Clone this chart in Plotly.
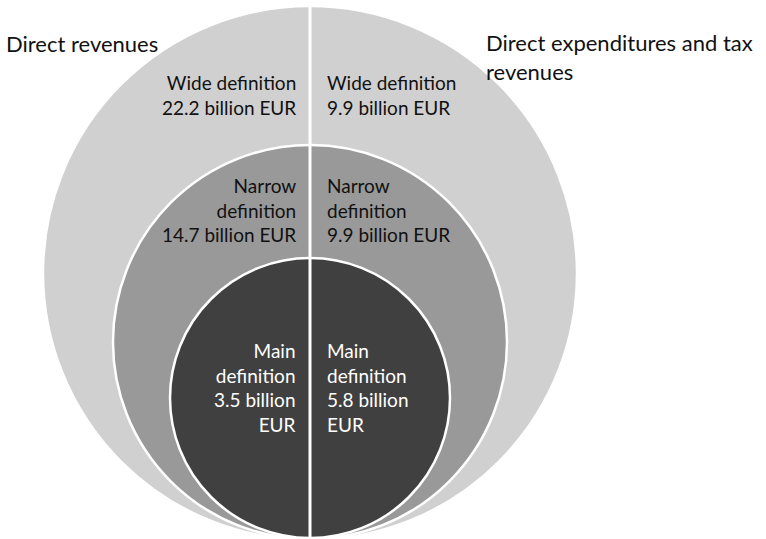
import plotly.graph_objects as go

# Data
rings = ["Wide", "Narrow", "Main"]
direct_revenues = [22.2, 14.7, 3.5]          # billion EUR, left half
direct_expenditures = [9.9, 9.9, 5.8]        # billion EUR, right half
side_titles = ["Direct revenues", "Direct expenditures and tax<br>revenues"]

# Geometry (pixel space, y grows downward)
W, H = 766, 539
cx = 310
ring_circles = [  # (center_y, radius) outer -> inner
    (273, 267),
    (342, 197),
    (398, 140),
]
ring_fill = ["#d0d0d0", "#999999", "#404040"]
ring_text = ["#111111", "#111111", "#ffffff"]
ring_label_y = [95, 210, 387]
left_templates = [
    "{r} definition<br>{v} billion EUR",
    "{r}<br>definition<br>{v} billion EUR",
    "{r}<br>definition<br>{v} billion<br>EUR",
]
right_templates = [
    "{r} definition<br>{v} billion EUR",
    "{r}<br>definition<br>{v} billion EUR",
    "{r}<br>definition<br>{v} billion<br>EUR",
]

FONT = "Lato"
FS = 19
TITLE_FS = 22

fig = go.Figure()

shapes = []
for (cy, r), col in zip(ring_circles, ring_fill):
    shapes.append(dict(type="circle", xref="x", yref="y",
                       x0=cx - r, x1=cx + r, y0=cy - r, y1=cy + r,
                       fillcolor=col, line=dict(color="white", width=2.5),
                       layer="below"))
# vertical divider between the two halves
shapes.append(dict(type="line", xref="x", yref="y", x0=cx, x1=cx, y0=0, y1=H,
                   line=dict(color="white", width=3), layer="below"))

annotations = []
for i, r in enumerate(rings):
    annotations.append(dict(
        x=cx - 12, y=ring_label_y[i], xref="x", yref="y",
        text=left_templates[i].format(r=r, v=direct_revenues[i]),
        showarrow=False, xanchor="right", yanchor="middle", align="right",
        font=dict(family=FONT, size=FS, color=ring_text[i])))
    annotations.append(dict(
        x=cx + 15, y=ring_label_y[i], xref="x", yref="y",
        text=right_templates[i].format(r=r, v=direct_expenditures[i]),
        showarrow=False, xanchor="left", yanchor="middle", align="left",
        font=dict(family=FONT, size=FS, color=ring_text[i])))

annotations.append(dict(x=4, y=43, xref="x", yref="y", text=side_titles[0],
                        showarrow=False, xanchor="left", yanchor="middle",
                        align="left", font=dict(family=FONT, size=TITLE_FS, color="#111111")))
annotations.append(dict(x=484, y=57, xref="x", yref="y", text=side_titles[1],
                        showarrow=False, xanchor="left", yanchor="middle",
                        align="left", font=dict(family=FONT, size=TITLE_FS, color="#111111")))

fig.update_layout(
    width=W, height=H,
    margin=dict(l=0, r=0, t=0, b=0),
    paper_bgcolor="white", plot_bgcolor="white",
    xaxis=dict(range=[0, W], visible=False, fixedrange=True),
    yaxis=dict(range=[H, 0], visible=False, fixedrange=True),
    shapes=shapes, annotations=annotations,
    showlegend=False,
)

fig.write_html("out.html")
